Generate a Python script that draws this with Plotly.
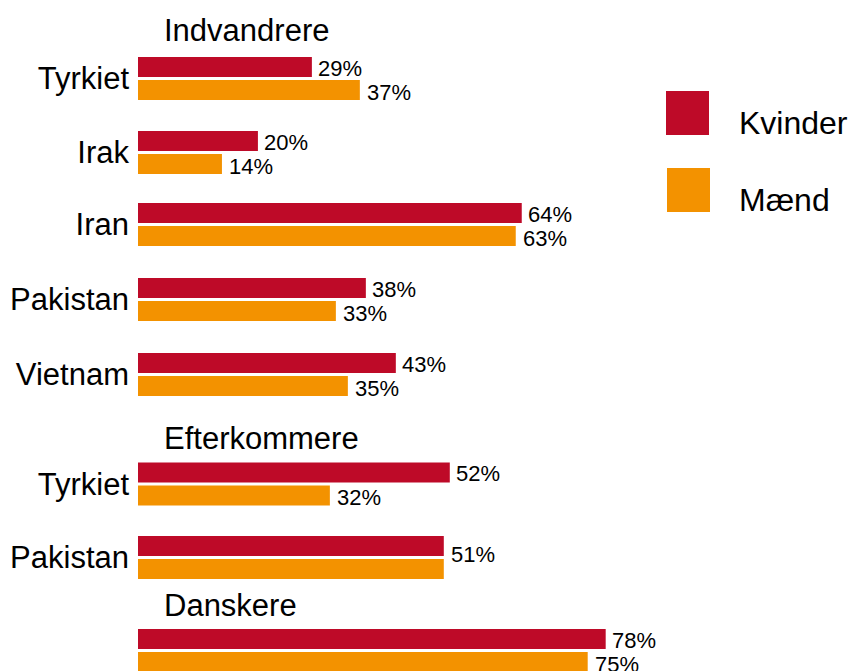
import plotly.graph_objects as go

# data
groups = ["Indvandrere", "Efterkommere", "Danskere"]
countries = ["Tyrkiet", "Irak", "Iran", "Pakistan", "Vietnam", "Tyrkiet", "Pakistan", ""]
kvinder = [29, 20, 64, 38, 43, 52, 51, 78]
maend = [37, 14, 63, 33, 35, 32, 51, 75]

# layout (pixel rows, y axis runs in pixels top-down)
W, H = 850, 671
L, R = 138, 110
row_y = [78.5, 152.5, 224.5, 299.5, 374.5, 484, 557.5, 650.5]
header_y = [30, 438, 605]
RED = "#BE0A28"
ORANGE = "#F39200"
FONT = "Liberation Sans, Arial, sans-serif"
half = 11.5

fig = go.Figure()
fig.add_trace(go.Bar(
    x=kvinder, y=[y - half for y in row_y], orientation="h", width=20,
    marker=dict(color=RED, line=dict(width=0)), name="Kvinder", hoverinfo="x",
))
fig.add_trace(go.Bar(
    x=maend, y=[y + half for y in row_y], orientation="h", width=20,
    marker=dict(color=ORANGE, line=dict(width=0)), name="Mænd", hoverinfo="x",
))

ann = []
for i, y in enumerate(row_y):
    k, m = kvinder[i], maend[i]
    if k == m:
        ann.append(dict(x=k, y=y - 3, text=f"{k}%", xanchor="left", showarrow=False, xshift=5))
    else:
        ann.append(dict(x=k, y=y - half + 1, text=f"{k}%", xanchor="left", showarrow=False, xshift=4))
        ann.append(dict(x=m, y=y + half + 2, text=f"{m}%", xanchor="left", showarrow=False, xshift=5))
for a in ann:
    a.update(xref="x", yref="y", yanchor="middle", font=dict(size=22, color="black", family=FONT))

for g, gy in zip(groups, header_y):
    ann.append(dict(x=4, y=gy, xref="x", yref="y", text=g, xanchor="left", yanchor="middle",
                    showarrow=False, font=dict(size=31, color="black", family=FONT)))

# legend drawn by hand with large swatches
pw = W - L - R
def px(p):
    return (p - L) / pw

shapes = [
    dict(type="rect", xref="paper", yref="y", x0=px(666), x1=px(709), y0=91, y1=135,
         fillcolor=RED, line=dict(width=0)),
    dict(type="rect", xref="paper", yref="y", x0=px(667), x1=px(710), y0=168, y1=212,
         fillcolor=ORANGE, line=dict(width=0)),
]
for name, ly in [("Kvinder", 123), ("Mænd", 200)]:
    ann.append(dict(x=px(737), y=ly, xref="paper", yref="y", text=name, xanchor="left",
                    yanchor="middle", showarrow=False, font=dict(size=32, color="black", family=FONT)))

fig.update_layout(
    width=W, height=H,
    margin=dict(l=L, r=R, t=0, b=0),
    barmode="overlay",
    showlegend=False,
    plot_bgcolor="white", paper_bgcolor="white",
    font=dict(family=FONT, color="black"),
    xaxis=dict(range=[0, 100.4], visible=False, fixedrange=True),
    yaxis=dict(range=[H, 0], tickvals=row_y, ticktext=countries, showgrid=False,
               zeroline=False, showline=False, ticks="", ticklabelstandoff=8,
               tickfont=dict(size=31, color="black", family=FONT), fixedrange=True),
    annotations=ann,
    shapes=shapes,
)

fig.write_html("out.html", config={"displayModeBar": False},
               post_script="document.body.style.margin='0';")
